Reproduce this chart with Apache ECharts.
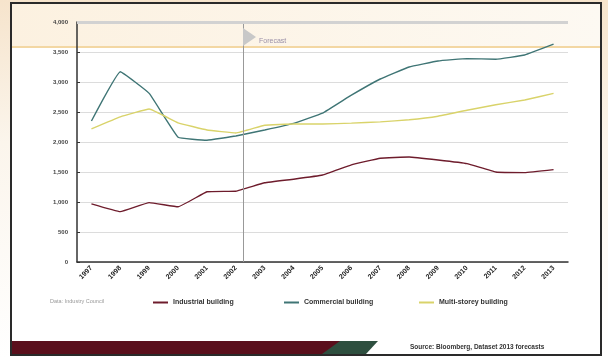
<!DOCTYPE html>
<html><head><meta charset="utf-8">
<script src="https://cdn.jsdelivr.net/npm/echarts@6/dist/echarts.min.js"></script>
<style>html,body{margin:0;padding:0;background:#fff}#c{width:608px;height:358px}</style>
</head><body><div id="c"></div>
<script>
const years = ['1997','1998','1999','2000','2001','2002','2003','2004','2005','2006','2007','2008','2009','2010','2011','2012','2013'];
const industrial = [970, 840, 990, 920, 1170, 1180, 1320, 1380, 1450, 1620, 1730, 1750, 1700, 1640, 1500, 1490, 1540];
const commercial = [2350, 3170, 2810, 2080, 2030, 2100, 2200, 2310, 2480, 2780, 3050, 3250, 3350, 3390, 3380, 3450, 3630];
const multistorey = [2220, 2420, 2550, 2320, 2200, 2150, 2280, 2300, 2300, 2315, 2335, 2370, 2430, 2530, 2620, 2700, 2810];
const seriesNames = ['Industrial building', 'Commercial building', 'Multi-storey building'];
const yTicks = ['0','500','1,000','1,500','2,000','2,500','3,000','3,500','4,000'];
const forecastAt = 5.25;

const colors = ['#6e1c2c', '#3f7575', '#d9d36a'];
const chart = echarts.init(document.getElementById('c'));
const font = 'Liberation Sans, Arial, sans-serif';
chart.setOption({
  animation: false,
  backgroundColor: '#fff',
  grid: {left: 77, right: 40, top: 22, bottom: 96, containLabel: false, outerBoundsMode: 'none'},
  xAxis: [{
    type: 'category', data: years, boundaryGap: true,
    axisLine: {onZero: false, lineStyle: {color: '#333', width: 1.5}},
    axisTick: {inside: true, length: 3, alignWithLabel: false, lineStyle: {color: '#333'}},
    axisLabel: {rotate: 45, fontSize: 7, fontWeight: 'bold', color: '#222', fontFamily: font, margin: 5}
  }, {
    type: 'value', min: -0.5, max: 16.5, show: false
  }],
  yAxis: {
    type: 'value', min: 0, max: 4000, interval: 500,
    axisLine: {show: true, onZero: false, lineStyle: {color: '#333', width: 1.5}},
    axisTick: {show: true, inside: true, length: 3, lineStyle: {color: '#333'}},
    axisLabel: {fontSize: 6, fontWeight: 'bold', color: '#444', fontFamily: font, margin: 9,
      formatter: v => yTicks[Math.round(v / 500)]},
    splitLine: {lineStyle: {color: '#dcdcdc', width: 1}}
  },
  legend: [0, 1, 2].map((i) => ({
    data: [seriesNames[i]], left: [148, 279, 414][i], top: 294,
    icon: 'rect', itemWidth: 15, itemHeight: 2, itemGap: 4,
    textStyle: {fontSize: 7, fontWeight: 'bold', color: '#333', fontFamily: font}
  })),
  series: [
    {name: seriesNames[0], type: 'line', data: industrial, smooth: 0.08, symbol: 'none', lineStyle: {color: colors[0], width: 1.4}, itemStyle: {color: colors[0]}},
    {name: seriesNames[1], type: 'line', data: commercial, smooth: 0.08, symbol: 'none', lineStyle: {color: colors[1], width: 1.4}, itemStyle: {color: colors[1]}},
    {name: seriesNames[2], type: 'line', data: multistorey, smooth: 0.08, symbol: 'none', lineStyle: {color: colors[2], width: 1.4}, itemStyle: {color: colors[2]}},
    {type: 'line', xAxisIndex: 1, data: [], silent: true, z: 1,
      markLine: {symbol: 'none', label: {show: false}, lineStyle: {color: '#999', width: 1, type: 'solid'},
        data: [{xAxis: forecastAt}, {yAxis: 4000, lineStyle: {color: '#d2d2d2', width: 3}}]}}
  ],
  graphic: [
    {type: 'rect', z: -10, shape: {x: 0, y: 0, width: 608, height: 358},
      style: {fill: new echarts.graphic.LinearGradient(0, 0, 0, 1, [{offset: 0, color: '#f6e4cc'}, {offset: 0.4, color: '#fbf5ec'}, {offset: 1, color: '#ffffff'}])}},
    {type: 'rect', z: -9, shape: {x: 11, y: 3, width: 590, height: 352}, style: {fill: '#fff', stroke: '#2a2a2a', lineWidth: 2}},
    {type: 'rect', z: -8, shape: {x: 12, y: 4, width: 588, height: 43},
      style: {fill: new echarts.graphic.LinearGradient(0, 0, 1, 0, [{offset: 0, color: '#fcf1e0'}, {offset: 1, color: '#fdf9f2'}])}},
    {type: 'rect', z: -7, shape: {x: 12, y: 46, width: 588, height: 2}, style: {fill: '#f3d7a3'}},
    {type: 'polygon', z: 5, shape: {points: [[12, 341], [347, 341], [335, 354], [12, 354]]}, style: {fill: '#5a0f1c'}},
    {type: 'polygon', z: 5, shape: {points: [[340, 341], [378, 341], [366, 354], [322, 354]]}, style: {fill: '#2e4f3f'}},
    {type: 'text', z: 5, left: 410, top: 344, style: {text: 'Source: Bloomberg, Dataset 2013 forecasts', fontSize: 6.5, fontWeight: 'bold', fill: '#333', fontFamily: font}},
    {type: 'text', z: 5, left: 50, top: 298, style: {text: 'Data: Industry Council', fontSize: 5.5, fill: '#999', fontFamily: font}},
    {type: 'polygon', z: 6, shape: {points: [[243, 28], [256, 37], [243, 46]]}, style: {fill: '#c8c8c8'}},
    {type: 'text', z: 6, left: 259, top: 38, style: {text: 'Forecast', fontSize: 7, fill: '#9a90a8', fontFamily: font}}
  ]
});
</script></body></html>
